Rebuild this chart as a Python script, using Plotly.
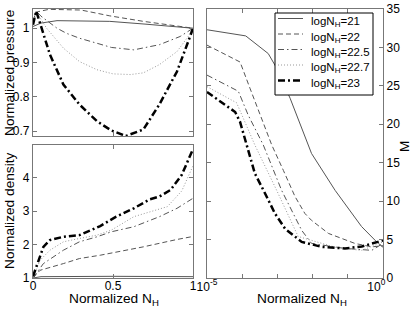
import plotly.graph_objects as go

names = ["logN<sub>H</sub>=21", "logN<sub>H</sub>=22", "logN<sub>H</sub>=22.5",
         "logN<sub>H</sub>=22.7", "logN<sub>H</sub>=23"]

# Top-left: normalized pressure vs normalized N_H
p_x21 = [0, 0.05, 0.15, 0.3, 0.48, 0.7, 1]
p_y21 = [1.005, 1.015, 1.022, 1.022, 1.020, 1.012, 1.0]
p_x22 = [0, 0.03, 0.1, 0.3, 0.48, 0.69, 1]
p_y22 = [1.02, 1.048, 1.055, 1.053, 1.036, 1.02, 1.0]
p_x225 = [0, 0.02, 0.05, 0.15, 0.21, 0.29, 0.49, 0.63, 0.79, 0.92, 1]
p_y225 = [1.02, 1.05, 1.035, 1.0, 0.985, 0.971, 0.944, 0.937, 0.952, 0.976, 1.0]
p_x227 = [0, 0.02, 0.085, 0.19, 0.29, 0.4, 0.5, 0.61, 0.69, 0.79, 0.9, 0.97, 1]
p_y227 = [1.02, 1.048, 1.0, 0.942, 0.903, 0.879, 0.867, 0.865, 0.870, 0.894, 0.932, 0.976, 1.0]
p_x23 = [0, 0.02, 0.054, 0.106, 0.19, 0.29, 0.4, 0.49, 0.58, 0.69, 0.79, 0.9, 0.97, 1]
p_y23 = [1.01, 1.05, 1.0, 0.923, 0.836, 0.778, 0.729, 0.702, 0.686, 0.705, 0.778, 0.874, 0.961, 1.0]

# Bottom-left: normalized density vs normalized N_H
d_x21 = [0, 0.05, 0.5, 1]
d_y21 = [1.0, 1.04, 1.05, 1.04]
d_x22 = [0, 0.044, 0.19, 0.29, 0.42, 0.69, 0.9, 1]
d_y22 = [1.0, 1.23, 1.43, 1.58, 1.68, 1.93, 2.15, 2.24]
d_x225 = [0, 0.065, 0.19, 0.29, 0.4, 0.49, 0.63, 0.79, 0.9, 1]
d_y225 = [1.0, 1.43, 1.83, 2.08, 2.23, 2.38, 2.53, 2.83, 3.08, 3.38]
d_x227 = [0, 0.044, 0.106, 0.19, 0.29, 0.4, 0.49, 0.63, 0.84, 0.93, 1]
d_y227 = [1.0, 1.53, 1.83, 2.08, 2.18, 2.28, 2.43, 2.83, 3.13, 3.6, 4.35]
d_x23 = [0, 0.033, 0.065, 0.106, 0.19, 0.29, 0.42, 0.52, 0.63, 0.73, 0.79, 0.86, 0.93, 1]
d_y23 = [1.05, 1.53, 1.93, 2.13, 2.23, 2.28, 2.55, 2.83, 3.08, 3.35, 3.43, 3.63, 4.08, 4.85]

# Right: M vs normalized N_H (log10 of N_H)
m_lx21 = [-5, -3.9, -3.26, -3.07, -2.64, -2.03, -1.36, -0.61, -0.18, 0]
m_y21 = [32.3, 31.5, 29.2, 27.7, 23.4, 16.2, 11.4, 6.7, 4.7, 4.0]
m_lx22 = [-5, -4.06, -3.78, -3.16, -2.83, -2.5, -2.22, -2.03, -1.55, -0.8, -0.32, 0]
m_y22 = [30.3, 28.1, 24.7, 17.3, 14.0, 10.6, 8.4, 7.5, 5.8, 4.5, 4.05, 4.2]
m_lx225 = [-5, -4.11, -3.83, -3.4, -2.88, -2.31, -2.03, -1.08, -0.32, 0]
m_y225 = [26.4, 24.3, 21.2, 17.3, 11.4, 6.2, 4.5, 3.85, 3.6, 4.5]
m_lx227 = [-5, -4.16, -3.97, -3.64, -3.02, -2.41, -1.28, -0.6, 0]
m_y227 = [24.9, 22.8, 20.8, 17.3, 11.4, 5.4, 3.9, 3.6, 4.7]
m_lx23 = [-5, -4.2, -4.06, -3.87, -3.64, -3.35, -3.07, -2.78, -2.31, -1.74, -1.08, -0.6, -0.18, 0]
m_y23 = [24.2, 21.6, 20.3, 17.3, 13.6, 11.0, 8.4, 6.4, 4.7, 4.05, 3.85, 4.1, 4.7, 4.9]

# Tick labels
p_ticks = [0.7, 0.8, 0.9, 1]
p_ticktext = ["0.7", "0.8", "0.9", "1"]
d_ticks = [1, 2, 3, 4]
lin_xticks = [0, 0.5, 1]
lin_xticktext = ["0", "0.5", "1"]
log_xticks = [1e-5, 1e-4, 1e-3, 1e-2, 1e-1, 1]
log_xticktext = ["10<sup>-5</sup>", "", "", "", "", "10<sup>0</sup>&nbsp;&nbsp;&nbsp;&nbsp;"]
m_ticks = [0, 5, 10, 15, 20, 25, 30, 35]

styles = [
    dict(color="#555555", width=1, dash="solid"),
    dict(color="#555555", width=1, dash="5px,3px"),
    dict(color="#555555", width=1, dash="6px,3px,1.5px,3px"),
    dict(color="#999999", width=1, dash="1px,2px"),
    dict(color="#000000", width=2.5, dash="7px,3px,2px,3px"),
]

pressure = [(p_x21, p_y21), (p_x22, p_y22), (p_x225, p_y225), (p_x227, p_y227), (p_x23, p_y23)]
density = [(d_x21, d_y21), (d_x22, d_y22), (d_x225, d_y225), (d_x227, d_y227), (d_x23, d_y23)]
mach = [(m_lx21, m_y21), (m_lx22, m_y22), (m_lx225, m_y225), (m_lx227, m_y227), (m_lx23, m_y23)]

fig = go.Figure()
for i in range(5):
    fig.add_trace(go.Scatter(x=pressure[i][0], y=pressure[i][1], mode="lines",
                             line=styles[i], xaxis="x", yaxis="y", showlegend=False))
    fig.add_trace(go.Scatter(x=density[i][0], y=density[i][1], mode="lines",
                             line=styles[i], xaxis="x2", yaxis="y2", showlegend=False))
for i in range(5):
    fig.add_trace(go.Scatter(x=[10 ** v for v in mach[i][0]], y=mach[i][1], mode="lines",
                             line=styles[i], name=names[i], xaxis="x3", yaxis="y3",
                             showlegend=False))

W, H = 415, 310
def dx(a, b):
    return [a / W, b / W]
def dy(top, bottom):
    return [(H - bottom) / H, (H - top) / H]
def px(x):
    return x / W
def py(y):
    return (H - y) / H

FAM = "Liberation Sans, Arial, sans-serif"
font = dict(family=FAM, size=12, color="#000")
ax_common = dict(showline=True, linecolor="#777777", linewidth=1.2, mirror="ticks",
                 ticks="inside", ticklen=4, tickcolor="#777777", showgrid=False,
                 zeroline=False, automargin=False, tickfont=dict(size=12, color="#000"))

title_font = dict(family=FAM, size=13.7, color="#000")
annotations = [
    dict(text="Normalized pressure", x=px(9), y=py(73), textangle=-90),
    dict(text="Normalized density", x=px(9), y=py(211), textangle=-90),
    dict(text="Normalized N<sub>H</sub>", x=px(114), y=py(299.5)),
    dict(text="Normalized N<sub>H</sub>", x=px(302), y=py(299.5)),
    dict(text="M", x=px(404), y=py(147), textangle=-90),
]
for a in annotations:
    a.update(xref="paper", yref="paper", showarrow=False, font=title_font,
             xanchor="center", yanchor="middle", borderpad=0)

# Legend box drawn as a framed panel with line samples and text
shapes = [dict(type="rect", xref="paper", yref="paper", x0=px(275), x1=px(373),
               y0=py(95), y1=py(13), line=dict(color="#000", width=1),
               fillcolor="white", layer="above")]
row_y = [18.5, 34, 49.5, 65, 80.5]
for i in range(5):
    shapes.append(dict(type="line", xref="paper", yref="paper", x0=px(278), x1=px(303),
                       y0=py(row_y[i]), y1=py(row_y[i]), line=styles[i], layer="above"))
    annotations.append(dict(text=names[i], xref="paper", yref="paper", x=px(309),
                            y=py(row_y[i] - 5.5), xanchor="left", yanchor="top",
                            showarrow=False, font=dict(family=FAM, size=11.5, color="#000")))

fig.update_layout(
    width=W, height=H, margin=dict(l=0, r=0, t=0, b=0, autoexpand=False),
    paper_bgcolor="white", plot_bgcolor="white", font=font, showlegend=False,
    xaxis=dict(domain=dx(33, 193), range=[0, 1], tickvals=lin_xticks,
               showticklabels=False, anchor="y", **ax_common),
    yaxis=dict(domain=dy(9, 136), range=[0.686, 1.056], tickvals=p_ticks,
               ticktext=p_ticktext, anchor="x", **ax_common),
    xaxis2=dict(domain=dx(33, 193), range=[0, 1], tickvals=lin_xticks,
                ticktext=lin_xticktext, anchor="y2", ticklabelstandoff=-4, **ax_common),
    yaxis2=dict(domain=dy(145, 278), range=[1, 4.97], tickvals=d_ticks, anchor="x2",
                **ax_common),
    xaxis3=dict(domain=dx(207, 383), type="log", range=[-5, 0],
                tickvals=log_xticks, ticktext=log_xticktext, anchor="y3",
                ticklabelstandoff=-3, **ax_common),
    yaxis3=dict(domain=dy(9, 278), range=[0, 35], tickvals=m_ticks,
                side="right", anchor="x3", **ax_common),
    annotations=annotations,
    shapes=shapes,
)

fig.write_html("out.html", config={"displayModeBar": False},
               post_script="document.body.style.margin='0';document.body.style.padding='0';")
